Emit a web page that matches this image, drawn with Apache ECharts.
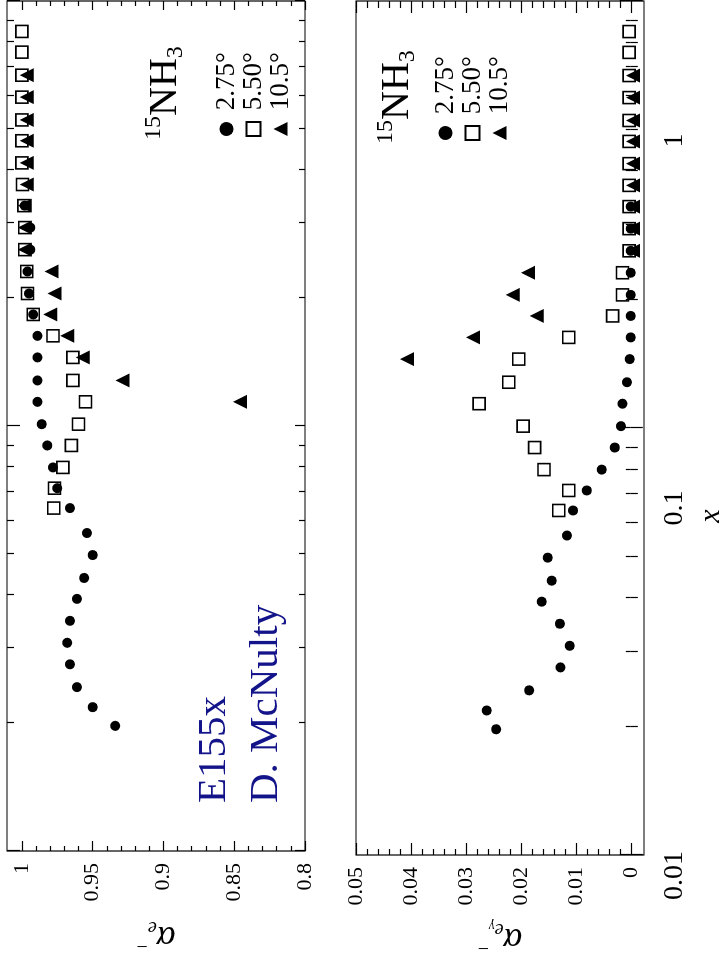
<!DOCTYPE html>
<html>
<head>
<meta charset="utf-8">
<title>E155x 15NH3 radiative factors</title>
<script src="https://cdn.jsdelivr.net/npm/echarts@6/dist/echarts.min.js"></script>
<style>
    html, body { margin: 0; padding: 0; background: #fff; }
    #page { position: relative; width: 726px; height: 968px; overflow: hidden; }
    /* figure is laid out landscape, then turned a quarter turn like the scan */
    #chart {
        position: absolute; left: 0; top: 0;
        width: 968px; height: 726px;
        transform-origin: 0 0;
        transform: translateY(968px) rotate(-90deg);
    }
</style>
</head>
<body>
<div id="page"><div id="chart"></div></div>
<script>
    // x bins (Bjorken x), shared by all three angles
    var xBins = [0.0197, 0.0218, 0.0243, 0.0275, 0.0309, 0.0348, 0.0392, 0.0439, 0.0497, 0.0560,
        0.0641, 0.0714, 0.0799, 0.0900, 0.101, 0.114, 0.128, 0.145, 0.163, 0.183,
        0.205, 0.231, 0.260, 0.293, 0.330, 0.370, 0.416, 0.469, 0.525, 0.594,
        0.669, 0.758, 0.848];

    // alpha_e- (upper panel)
    var circleTop = [0.934, 0.950, 0.961, 0.966, 0.968, 0.966, 0.961, 0.956, 0.950, 0.954,
        0.966, 0.975, 0.978, 0.982, 0.986, 0.989, 0.989, 0.989, 0.989, 0.992,
        0.995, 0.996, 0.994, 0.994, 0.998, null, null, null, null, null,
        null, null, null];
    var squareTop = [null, null, null, null, null, null, null, null, null, null,
        0.9775, 0.977, 0.971, 0.965, 0.960, 0.955, 0.964, 0.964, 0.978, 0.992,
        0.996, 0.9965, 0.998, 0.998, 0.9986, 0.9996, 1, 1, 1, 1,
        1, 1, 1];
    var triangleTop = [null, null, null, null, null, null, null, null, null, null,
        null, null, null, null, null, 0.846, 0.929, 0.957, 0.968, 0.980,
        0.977, 0.979, 0.998, 0.998, 0.998, 0.9965, 0.9965, 0.9965, 0.9965, 0.9965,
        0.9965, null, null];

    // alpha_e_gamma- (lower panel)
    var circleBottom = [0.0245, 0.0262, 0.0185, 0.0128, 0.0111, 0.0129, 0.0162, 0.0144, 0.0151, 0.0116,
        0.0105, 0.0080, 0.0053, 0.0029, 0.0018, 0.0015, 0.0007, 0.0002, 0, 0,
        0, 0, 0, 0, 0, null, null, null, null, null,
        null, null, null];
    var squareBottom = [null, null, null, null, null, null, null, null, null, null,
        0.0131, 0.0113, 0.0158, 0.0175, 0.0196, 0.0276, 0.0222, 0.0204, 0.0113, 0.0033,
        0.0015, 0.0015, 0.0003, 0.0003, 0.0003, 0.0003, 0.0003, 0.0003, 0.0003, 0.0003,
        0.0003, 0.0003, 0.0003];
    var triangleBottom = [null, null, null, null, null, null, null, null, null, null,
        null, null, null, null, null, null, null, 0.0407, 0.0287, 0.0171,
        0.0215, 0.0187, -0.0004, -0.0004, -0.0004, -0.0004, -0.0004, -0.0004, -0.0004, -0.0004,
        -0.0004, null, null];

    var angleNames = ['2.75°', '5.50°', '10.5°'];

    // ticks
    var xMajorTicks = [0.01, 0.1, 1];
    var xMinorTicks = [0.02, 0.03, 0.04, 0.05, 0.06, 0.07, 0.08, 0.09,
        0.2, 0.3, 0.4, 0.5, 0.6, 0.7, 0.8, 0.9];
    var xLabelTicks = [0.01, 0.1, 1];
    var alphaMajorTicks = [0.8, 0.85, 0.9, 0.95, 1];
    var alphaMinorTicks = [0.81, 0.82, 0.83, 0.84, 0.86, 0.87, 0.88, 0.89,
        0.91, 0.92, 0.93, 0.94, 0.96, 0.97, 0.98, 0.99];
    var gammaMajorTicks = [0, 0.01, 0.02, 0.03, 0.04, 0.05];
    var gammaMinorTicks = [0.002, 0.004, 0.006, 0.008, 0.012, 0.014, 0.016, 0.018,
        0.022, 0.024, 0.026, 0.028, 0.032, 0.034, 0.036, 0.038,
        0.042, 0.044, 0.046, 0.048];

    var FONT = '"Liberation Serif", "Times New Roman", Times, serif';

    function pts(vals) {
        var out = [];
        for (var i = 0; i < xBins.length; i++) {
            if (vals[i] !== null) out.push([xBins[i], vals[i]]);
        }
        return out;
    }

    function tickAxis(base, grid, pos, vals, len) {
        var ax = {
            gridIndex: grid,
            position: pos,
            axisLine: {show: false},
            splitLine: {show: false},
            axisTick: {show: true, inside: true, length: len, customValues: vals,
                lineStyle: {color: '#000', width: 1.2}},
            axisLabel: {show: false}
        };
        for (var k in base) ax[k] = base[k];
        return ax;
    }

    var logX = {type: 'log', logBase: 10, min: 0.01, max: 1};
    var alphaY = {type: 'value', min: 0.8, max: 1.0105};
    var gammaY = {type: 'value', min: -0.0024, max: 0.05};

    var xAxes = [
        tickAxis(logX, 0, 'bottom', xMajorTicks, 10),
        tickAxis(logX, 0, 'bottom', xMinorTicks, 6),
        tickAxis(logX, 0, 'top', xMajorTicks, 13),
        tickAxis(logX, 0, 'top', xMinorTicks, 7),
        tickAxis(logX, 1, 'bottom', xMajorTicks, 11),
        tickAxis(logX, 1, 'bottom', xMinorTicks, 5),
        tickAxis(logX, 1, 'top', xMajorTicks, 12),
        tickAxis(logX, 1, 'top', xMinorTicks, 7),
        {
            // the printed x labels sit on their own (offset) scale in the original,
            // so they get a wide invisible axis of their own
            gridIndex: 2, type: 'log', logBase: 10, min: 0.000855, max: 10.58,
            axisLine: {show: false}, axisTick: {show: false}, splitLine: {show: false},
            axisLabel: {customValues: xLabelTicks, fontFamily: FONT, fontSize: 28, color: '#000', margin: 17,
                formatter: function (v) { return String(v); }},
            name: 'x', nameLocation: 'middle', nameGap: 52,
            nameTextStyle: {fontFamily: FONT, fontStyle: 'italic', fontSize: 30, color: '#000'}
        }
    ];

    var yNameRich = {
        a: {fontFamily: FONT, fontStyle: 'italic', fontSize: 36, lineHeight: 38, color: '#000'},
        e: {fontFamily: FONT, fontStyle: 'italic', fontSize: 20, lineHeight: 20, verticalAlign: 'bottom', color: '#000'},
        g: {fontFamily: FONT, fontStyle: 'italic', fontSize: 14, lineHeight: 10, verticalAlign: 'bottom', color: '#000'},
        m: {fontFamily: FONT, fontSize: 20, lineHeight: 32, verticalAlign: 'top', color: '#000'}
    };

    var yLeftTop = tickAxis(alphaY, 0, 'left', alphaMajorTicks, 10);
    yLeftTop.axisLabel = {show: true, customValues: alphaMajorTicks, fontFamily: FONT, fontSize: 22, color: '#000', margin: 12};
    yLeftTop.name = '{a|α}{e|e}{m|−}';
    yLeftTop.nameLocation = 'middle';
    yLeftTop.nameGap = 66;
    yLeftTop.nameTextStyle = {rich: yNameRich};

    var yLeftBottom = tickAxis(gammaY, 1, 'left', gammaMajorTicks, 12);
    yLeftBottom.axisLabel = {show: true, customValues: gammaMajorTicks, fontFamily: FONT, fontSize: 22, color: '#000', margin: 12};
    yLeftBottom.name = '{a|α}{e|e}{g|γ}{m|−}';
    yLeftBottom.nameLocation = 'middle';
    yLeftBottom.nameGap = 64;
    yLeftBottom.nameTextStyle = {rich: yNameRich};

    var yAxes = [
        yLeftTop,
        tickAxis(alphaY, 0, 'left', alphaMinorTicks, 5),
        tickAxis(alphaY, 0, 'right', alphaMajorTicks, 9),
        tickAxis(alphaY, 0, 'right', alphaMinorTicks, 5),
        yLeftBottom,
        tickAxis(gammaY, 1, 'left', gammaMinorTicks, 6),
        tickAxis(gammaY, 1, 'right', gammaMajorTicks, 12),
        tickAxis(gammaY, 1, 'right', gammaMinorTicks, 7),
        {gridIndex: 2, type: 'value', show: false}
    ];

    function marks(xi, yi, circ, sq, tri) {
        return [
            {name: angleNames[0], type: 'scatter', xAxisIndex: xi, yAxisIndex: yi,
                symbol: 'circle', symbolSize: 10, itemStyle: {color: '#000', opacity: 1}, data: pts(circ)},
            {name: angleNames[1], type: 'scatter', xAxisIndex: xi, yAxisIndex: yi,
                symbol: 'rect', symbolSize: 12,
                itemStyle: {color: 'rgba(255,255,255,0)', borderColor: '#000', borderWidth: 1.6, opacity: 1}, data: pts(sq)},
            {name: angleNames[2], type: 'scatter', xAxisIndex: xi, yAxisIndex: yi,
                symbol: 'triangle', symbolSize: 14, itemStyle: {color: '#000', opacity: 1}, data: pts(tri)}
        ];
    }

    var legendText = {fontFamily: FONT, fontSize: 27, color: '#000'};
    var titleRich = {
        s: {fontFamily: FONT, fontSize: 24, lineHeight: 24, verticalAlign: 'top', fill: '#000'},
        n: {fontFamily: FONT, fontSize: 40, lineHeight: 46, verticalAlign: 'middle', fill: '#000'},
        b: {fontFamily: FONT, fontSize: 24, lineHeight: 24, verticalAlign: 'bottom', fill: '#000'}
    };

    var mychart = echarts.init(document.getElementById('chart'));
    var option = {
        animation: false,
        backgroundColor: '#fff',
        grid: [
            {left: 117, right: 1, top: 7, height: 298, show: true, borderColor: '#000', borderWidth: 1.2,
                outerBoundsMode: 'none'},
            {left: 113, right: 1, top: 356, height: 288, show: true, borderColor: '#000', borderWidth: 1.2,
                outerBoundsMode: 'none'},
            {left: -300, right: -236, top: 356, height: 288, show: false, outerBoundsMode: 'none'}
        ],
        xAxis: xAxes,
        yAxis: yAxes,
        legend: [
            {orient: 'vertical', left: 826, top: 208, itemWidth: 14, itemHeight: 14, itemGap: 0,
                selectedMode: false, data: angleNames, formatter: ' {name}', textStyle: legendText},
            {orient: 'vertical', left: 822, top: 427, itemWidth: 14, itemHeight: 14, itemGap: 0,
                selectedMode: false, data: angleNames, formatter: ' {name}', textStyle: legendText}
        ],
        graphic: [
            {type: 'text', x: 828, y: 165, silent: true,
                style: {text: '{s|15}{n|NH}{b|3}', rich: titleRich, verticalAlign: 'middle', fill: '#000'}},
            {type: 'text', x: 824, y: 397, silent: true,
                style: {text: '{s|15}{n|NH}{b|3}', rich: titleRich, verticalAlign: 'middle', fill: '#000'}},
            {type: 'text', x: 165, y: 214, silent: true,
                style: {text: 'E155x', fontFamily: FONT, fontSize: 41, fill: '#14148a', verticalAlign: 'middle'}},
            {type: 'text', x: 165, y: 266, silent: true,
                style: {text: 'D. McNulty', fontFamily: FONT, fontSize: 41, fill: '#14148a', verticalAlign: 'middle'}}
        ],
        series: [].concat(
            marks(0, 0, circleTop, squareTop, triangleTop),
            marks(4, 4, circleBottom, squareBottom, triangleBottom)
        )
    };
    mychart.setOption(option);
</script>
</body>
</html>
